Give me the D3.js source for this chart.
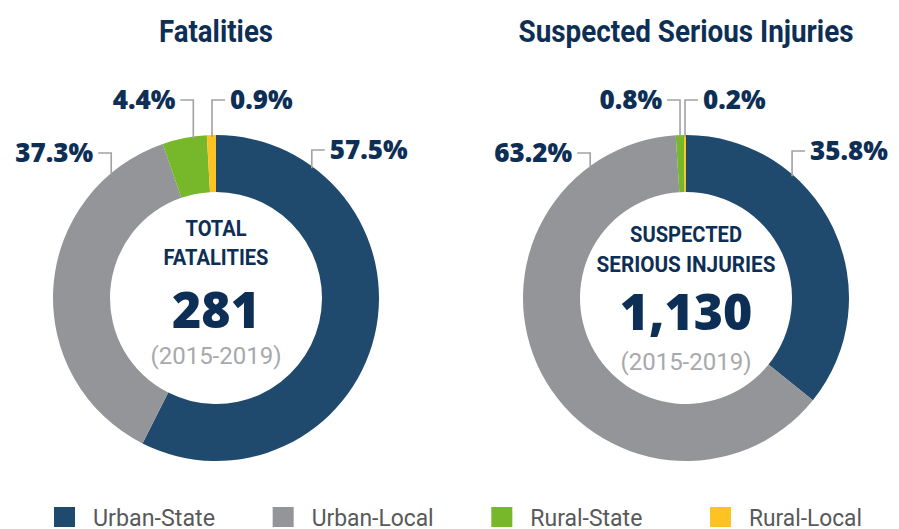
<!DOCTYPE html>
<html>
<head>
<meta charset="utf-8">
<script src="https://cdn.jsdelivr.net/npm/d3@7"></script>
<style>
  body { margin: 0; background: #fff; }
  svg { display: block; }
</style>
</head>
<body>
<div class="container"></div>
<script>
// data
var categories = ["Urban-State", "Urban-Local", "Rural-State", "Rural-Local"];
var fatalityShares = [57.5, 37.3, 4.4, 0.9];
var injuryShares = [35.8, 63.2, 0.8, 0.2];
var totals = [281, 1130];
var chartTitles = ["Fatalities", "Suspected Serious Injuries"];
var centerLines = [["TOTAL", "FATALITIES"], ["SUSPECTED", "SERIOUS INJURIES"]];
var period = "(2015-2019)";

var colors = ["#1f4a6e", "#939598", "#77b82a", "#fdc323"];
var navy = "#0e2f55";
var heavy = "'Open Sans', Lato, sans-serif";

var W = 899, H = 529;
var outerR = 163, innerR = 106;

// label layout: angle where the leader meets the ring (deg), elbow y, side
var leaderLayout = [
  [{a: 36, y: 150, side: 1}, {a: -40, y: 153, side: -1}, {a: -8, y: 100, side: -1}, {a: -1.4, y: 100, side: 1}],
  [{a: 40.6, y: 151, side: 1}, {a: -36, y: 153, side: -1}, {a: -2.1, y: 100, side: -1}, {a: -0.35, y: 100, side: 1}]
];
var textWidths = {
  title: [114, 335],
  center: [[61, 105], [112, 179]]
};
var centerBaselines = [[-62, -33, 30, 66], [-56, -26, 32, 72]];

var svg = d3.select('.container').append('svg')
  .attr('width', W)
  .attr('height', H);

var x = d3.scalePoint().domain([0, 1]).range([216, 686]);
var cy = 298;

var pie = d3.pie().sort(null).value(function(d) { return d; });
var arc = d3.arc().innerRadius(innerR).outerRadius(outerR);

[fatalityShares, injuryShares].forEach(function(shares, ci) {
  var cx = x(ci);
  var g = svg.append('g').attr('transform', 'translate(' + cx + ',' + cy + ')');

  g.selectAll('path').data(pie(shares)).enter().append('path')
    .attr('d', arc)
    .attr('fill', function(d, i) { return colors[i]; });

  // title
  svg.append('text')
    .attr('x', cx).attr('y', 42)
    .attr('text-anchor', 'middle')
    .attr('font-family', 'Roboto')
    .attr('font-weight', 700)
    .attr('font-size', 31)
    .attr('fill', navy)
    .attr('textLength', textWidths.title[ci])
    .attr('lengthAdjust', 'spacingAndGlyphs')
    .text(chartTitles[ci]);

  // centre text
  centerLines[ci].forEach(function(t, li) {
    g.append('text')
      .attr('x', 0).attr('y', centerBaselines[ci][li])
      .attr('text-anchor', 'middle')
      .attr('font-family', 'Roboto')
      .attr('font-weight', 700)
      .attr('font-size', 22)
      .attr('fill', navy)
      .attr('textLength', textWidths.center[ci][li])
      .attr('lengthAdjust', 'spacingAndGlyphs')
      .text(t);
  });
  g.append('text')
    .attr('x', 0).attr('y', centerBaselines[ci][2])
    .attr('text-anchor', 'middle')
    .attr('font-family', heavy)
    .attr('font-weight', 800)
    .attr('font-size', 50)
    .attr('fill', navy)
    .text(d3.format(',')(totals[ci]));
  g.append('text')
    .attr('x', 0).attr('y', centerBaselines[ci][3])
    .attr('text-anchor', 'middle')
    .attr('font-family', 'Roboto')
    .attr('font-size', 24)
    .attr('fill', '#a7a9ac')
    .text(period);

  // leaders and percentage labels
  shares.forEach(function(v, i) {
    var L = leaderLayout[ci][i];
    var rad = L.a * Math.PI / 180;
    var px = outerR * Math.sin(rad);
    var py = -outerR * Math.cos(rad);
    var ey = L.y - cy;
    var hx = px + L.side * 13;
    g.append('path')
      .attr('d', 'M' + px + ',' + (py + 2) + 'V' + ey + 'H' + hx)
      .attr('fill', 'none')
      .attr('stroke', '#a0a2a5')
      .attr('stroke-width', 1.6);
    g.append('text')
      .attr('x', hx + L.side * 5)
      .attr('y', ey + 9)
      .attr('text-anchor', L.side > 0 ? 'start' : 'end')
      .attr('font-family', heavy)
      .attr('font-weight', 800)
      .attr('font-size', 26)
      .attr('fill', navy)
      .text(d3.format('.1f')(v) + '%');
  });
});

// legend
var legendX = d3.scaleLinear().domain([0, 3]).range([54, 710]);
var legendWidths = [122, 122, 112, 113];
var lg = svg.selectAll('.legend').data(categories).enter().append('g')
  .attr('class', 'legend')
  .attr('transform', function(d, i) { return 'translate(' + legendX(i) + ',507)'; });
lg.append('rect')
  .attr('width', 21).attr('height', 20)
  .attr('fill', function(d, i) { return colors[i]; });
lg.append('text')
  .attr('x', 39).attr('y', 19)
  .attr('font-family', 'Roboto')
  .attr('font-size', 24)
  .attr('fill', '#58595b')
  .attr('textLength', function(d, i) { return legendWidths[i]; })
  .attr('lengthAdjust', 'spacingAndGlyphs')
  .text(function(d) { return d; });
</script>
</body>
</html>
